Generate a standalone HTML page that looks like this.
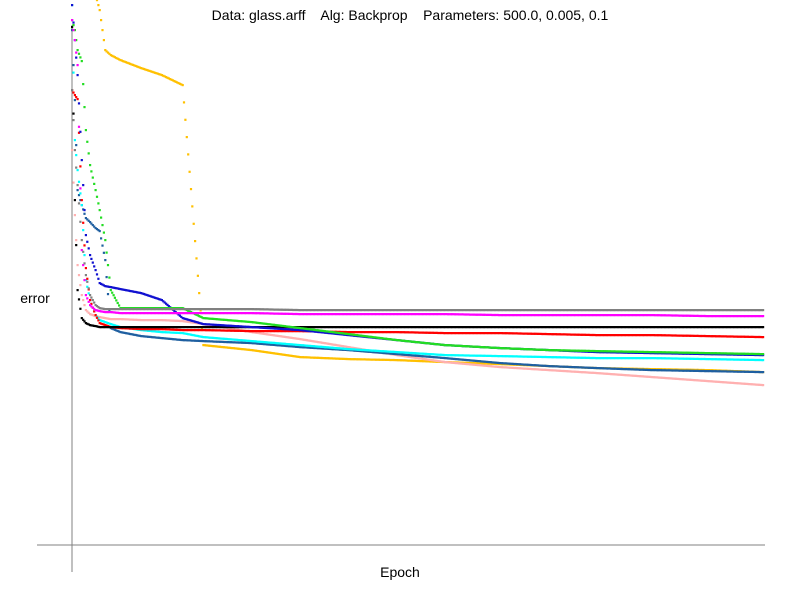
<!DOCTYPE html>
<html><head><meta charset="utf-8"><style>
body{margin:0;background:#fff;}
svg{display:block;font-family:"Liberation Sans",sans-serif;}
</style></head><body>
<svg id="chart" width="800" height="600">
<text x="410" y="20" text-anchor="middle" font-size="14" style="white-space:pre">Data: glass.arff    Alg: Backprop    Parameters: 500.0, 0.005, 0.1</text>
<line x1="72" y1="25" x2="72" y2="572" stroke="#808080" stroke-width="1"/>
<line x1="37" y1="545" x2="765" y2="545" stroke="#808080" stroke-width="1"/>
<text x="35" y="303" text-anchor="middle" font-size="14">error</text>
<text x="400" y="577" text-anchor="middle" font-size="14">Epoch</text>
<g id="series"></g>
</svg>
<script>
const epochs=[0,2,4,7,10,13,17,20,24,28,35,50,65,80,95,130,165,200,235,270,310,345,380,420,460,500];
const goldErr=[6.05,5.95,5.85,5.75,5.65,5.57,5.50,5.35,4.95,4.90,4.85,4.77,4.70,4.60,2.00,1.95,1.88,1.86,1.85,1.83,1.81,1.79,1.77,1.76,1.75,1.73];
const pinkErr=[3.95,3.30,2.80,2.50,2.35,2.31,2.29,2.28,2.27,2.26,2.26,2.25,2.25,2.24,2.21,2.13,2.06,1.98,1.90,1.83,1.78,1.75,1.72,1.68,1.64,1.60];
const steelErr=[5.15,4.45,3.55,3.40,3.27,3.23,3.17,3.14,2.85,2.17,2.13,2.09,2.07,2.05,2.04,2.02,1.98,1.95,1.91,1.87,1.82,1.79,1.77,1.75,1.74,1.73];
const cyanErr=[5.40,4.05,3.75,3.40,2.65,2.45,2.30,2.25,2.23,2.21,2.18,2.15,2.13,2.12,2.08,2.04,2.00,1.96,1.93,1.90,1.89,1.88,1.87,1.87,1.86,1.85];
const redErr=[4.55,4.50,4.46,3.45,2.77,2.45,2.30,2.22,2.20,2.18,2.17,2.16,2.16,2.15,2.15,2.14,2.14,2.13,2.13,2.12,2.12,2.11,2.10,2.10,2.09,2.08];
const blackErr=[5.18,3.45,2.55,2.27,2.22,2.20,2.19,2.18,2.18,2.18,2.18,2.18,2.18,2.18,2.18,2.18,2.18,2.18,2.18,2.18,2.18,2.18,2.18,2.18,2.18,2.18];
const blueErr=[5.40,5.05,4.70,3.85,3.10,2.90,2.75,2.62,2.59,2.58,2.56,2.52,2.45,2.27,2.21,2.18,2.15,2.10,2.05,2.00,1.97,1.95,1.93,1.92,1.91,1.90];
const greenErr=[5.25,5.15,4.95,4.84,4.15,3.80,3.55,3.35,3.05,2.55,2.37,2.37,2.37,2.37,2.27,2.23,2.17,2.11,2.05,2.00,1.97,1.95,1.94,1.93,1.92,1.91];
const magentaErr=[5.25,5.05,4.80,2.95,2.50,2.40,2.35,2.34,2.33,2.33,2.32,2.32,2.32,2.32,2.32,2.32,2.31,2.31,2.31,2.31,2.30,2.30,2.30,2.30,2.29,2.29];
const grayErr=[4.55,3.95,3.60,3.05,2.70,2.50,2.40,2.37,2.36,2.36,2.36,2.36,2.36,2.36,2.36,2.36,2.35,2.35,2.35,2.35,2.35,2.35,2.35,2.35,2.35,2.35];
const seriesNames=['gold','pink','steelblue','cyan','red','black','blue','green','magenta','gray'];
const seriesData=[goldErr,pinkErr,steelErr,cyanErr,redErr,blackErr,blueErr,greenErr,magentaErr,grayErr];
const seriesColors=['#ffc000','#ffb0b0','#1f5fa0','#00ffff','#ff0000','#000000','#1010d0','#22dd22','#ff00ff','#808080'];
const xMax=500, errMax=5.45;
function xScale(e){return 72+e*(691/xMax);}
function yScale(v){return 545-v*(545/errMax);}
function valueAt(vals,e){
  for(let j=0;j<epochs.length-1;j++){
    if(e>=epochs[j]&&e<=epochs[j+1]){
      const t=(e-epochs[j])/(epochs[j+1]-epochs[j]);
      return vals[j]+(vals[j+1]-vals[j])*t;
    }
  }
  return vals[vals.length-1];
}
const g=document.getElementById('series');
const ns='http://www.w3.org/2000/svg';
seriesData.forEach((vals,i)=>{
  const sg=document.createElementNS(ns,'g');
  sg.setAttribute('fill',seriesColors[i]);
  
  
  for(let e=0;e<=xMax;e++){
    const y=yScale(valueAt(vals,e));
    if(y<0)continue;
    const d=document.createElementNS(ns,'rect');
    d.setAttribute('x',(xScale(e)-1).toFixed(1));
    d.setAttribute('y',(y-1).toFixed(1));
    d.setAttribute('width','2.2');
    d.setAttribute('height','2.2');
    
    
    sg.appendChild(d);
  }
  g.appendChild(sg);
});
</script>
</body></html>
